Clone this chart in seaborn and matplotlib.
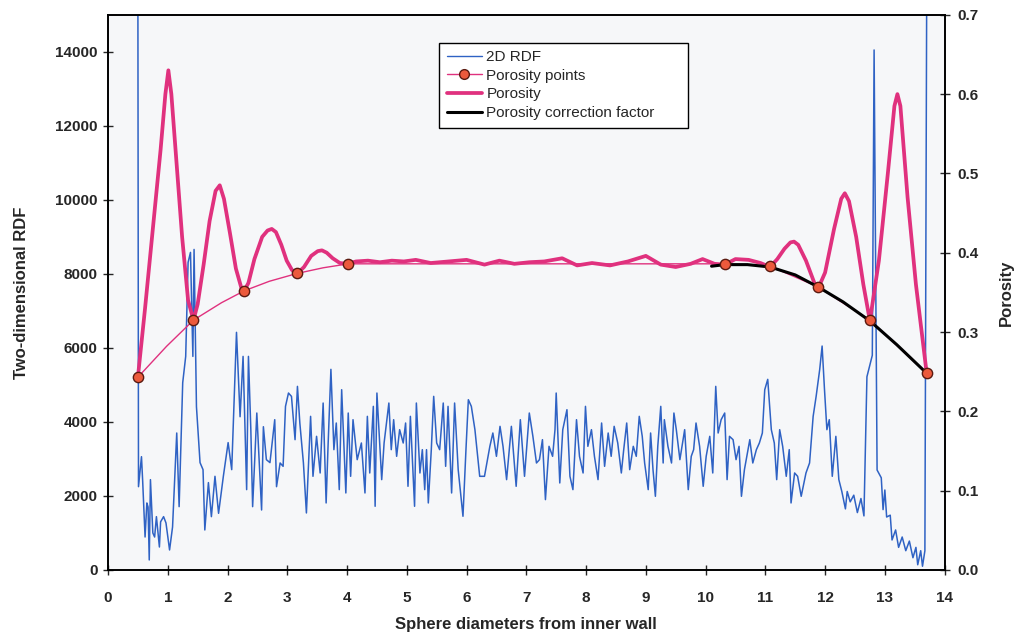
import numpy as np
import pandas as pd
import matplotlib
matplotlib.use("Agg")
import matplotlib.pyplot as plt
import seaborn as sns
from matplotlib.lines import Line2D
from matplotlib.ticker import FormatStrFormatter

# 2D radial distribution function
rdf_x = [0.50, 0.51, 0.56, 0.58, 0.62, 0.65, 0.67, 0.69, 0.71, 0.75,
         0.78, 0.81, 0.86, 0.88, 0.93, 0.97, 1.03, 1.08, 1.15, 1.19,
         1.25, 1.30, 1.34, 1.38, 1.42, 1.44, 1.48, 1.54, 1.59, 1.62,
         1.68, 1.73, 1.79, 1.85, 1.93, 2.01, 2.07, 2.15, 2.21, 2.26,
         2.32, 2.35, 2.39, 2.42, 2.49, 2.57, 2.60, 2.65, 2.71, 2.79,
         2.82, 2.88, 2.93, 2.97, 3.02, 3.07, 3.13, 3.17, 3.21, 3.27,
         3.32, 3.39, 3.43, 3.49, 3.55, 3.60, 3.65, 3.68, 3.73, 3.78,
         3.82, 3.87, 3.91, 3.98, 4.02, 4.06, 4.10, 4.17, 4.24, 4.30,
         4.34, 4.38, 4.44, 4.47, 4.50, 4.58, 4.62, 4.70, 4.74, 4.78,
         4.83, 4.88, 4.94, 4.98, 5.02, 5.06, 5.13, 5.16, 5.22, 5.26,
         5.30, 5.33, 5.36, 5.41, 5.45, 5.50, 5.55, 5.61, 5.65, 5.69,
         5.75, 5.80, 5.86, 5.94, 5.99, 6.03, 6.08, 6.14, 6.22, 6.30,
         6.39, 6.44, 6.50, 6.56, 6.61, 6.67, 6.75, 6.83, 6.90, 6.97,
         7.05, 7.11, 7.17, 7.22, 7.27, 7.32, 7.38, 7.44, 7.48, 7.50,
         7.56, 7.61, 7.68, 7.73, 7.78, 7.84, 7.89, 7.95, 7.99, 8.03,
         8.09, 8.14, 8.20, 8.26, 8.31, 8.37, 8.42, 8.47, 8.53, 8.59,
         8.63, 8.68, 8.73, 8.79, 8.84, 8.89, 8.94, 8.98, 9.04, 9.08,
         9.12, 9.16, 9.20, 9.25, 9.29, 9.31, 9.37, 9.43, 9.47, 9.51,
         9.57, 9.65, 9.71, 9.76, 9.80, 9.84, 9.90, 9.96, 10.01, 10.07,
         10.12, 10.17, 10.21, 10.26, 10.32, 10.36, 10.40, 10.46, 10.51, 10.56,
         10.60, 10.65, 10.74, 10.79, 10.85, 10.90, 10.95, 10.99, 11.04, 11.10,
         11.15, 11.19, 11.24, 11.29, 11.35, 11.40, 11.43, 11.49, 11.54, 11.60,
         11.68, 11.74, 11.80, 11.85, 11.91, 11.95, 11.99, 12.03, 12.07, 12.12,
         12.18, 12.23, 12.28, 12.34, 12.37, 12.42, 12.48, 12.54, 12.60, 12.65,
         12.70, 12.76, 12.79, 12.82, 12.87, 12.94, 12.97, 13.00, 13.03, 13.09,
         13.12, 13.18, 13.23, 13.29, 13.35, 13.41, 13.47, 13.52, 13.55, 13.60,
         13.63, 13.67, 13.70]
rdf_y = [15500, 2250, 3060, 2400, 890, 1810, 1700, 270, 2440, 1000,
         890, 1440, 620, 1300, 1440, 1270, 540, 1160, 3700, 1710,
         5060, 5770, 8310, 8580, 5770, 8660, 4410, 2900, 2710, 1080,
         2360, 1440, 2530, 1530, 2530, 3440, 2710, 6420, 4140, 5770,
         2170, 5770, 3790, 1710, 4240, 1620, 3870, 2980, 2900, 4060,
         2250, 2890, 2800, 4420, 4780, 4690, 3520, 4960, 3970, 2890,
         1540, 4150, 2530, 3610, 2620, 4510, 1810, 3250, 5420, 3250,
         3970, 2170, 4870, 2080, 4240, 2530, 4060, 2980, 3430, 2080,
         4150, 2620, 4420, 1720, 4780, 2440, 3430, 4510, 3250, 4060,
         3070, 3790, 3430, 3970, 2260, 4150, 1720, 4510, 2620, 3250,
         2170, 3250, 1810, 3250, 4690, 3430, 3250, 4510, 2800, 4420,
         2080, 4510, 2710, 1450, 3250, 4600, 4420, 3790, 2530, 2530,
         3340, 3700, 3070, 3880, 3340, 2440, 3880, 2260, 4060, 2530,
         4240, 3610, 2890, 2980, 3520, 1900, 3340, 3070, 3790, 4780,
         2350, 3790, 4330, 2530, 2170, 4060, 3070, 2620, 4420, 3340,
         3790, 3070, 2440, 3970, 2800, 3700, 3070, 3880, 3430, 2620,
         3250, 3970, 2710, 3340, 3070, 4150, 3610, 2890, 2170, 3700,
         2710, 1990, 3340, 4420, 2890, 4060, 3340, 2890, 4240, 3790,
         2980, 3790, 2170, 3070, 3250, 3970, 3340, 2260, 3070, 3610,
         2620, 4960, 3700, 4060, 4240, 2440, 3610, 3520, 2980, 3340,
         1990, 2710, 3520, 2890, 3250, 3430, 3700, 4870, 5150, 3790,
         3430, 2440, 3790, 3340, 2530, 3250, 1810, 2620, 2530, 1990,
         2620, 2890, 4150, 4690, 5420, 6050, 4870, 3790, 4060, 2530,
         3610, 2440, 2120, 1650, 2120, 1840, 2020, 1550, 1930, 1460,
         5220, 5600, 5800, 14050, 2700, 2490, 1630, 2160, 1430, 1480,
         810, 1080, 610, 890, 520, 780, 330, 610, 140, 520,
         100, 520, 15500]

# porosity profile (thick magenta)
por_x = [0.50, 0.62, 0.75, 0.88, 0.96, 1.01, 1.06, 1.14, 1.24, 1.34,
         1.43, 1.50, 1.60, 1.70, 1.80, 1.87, 1.94, 2.04, 2.14, 2.23,
         2.28, 2.35, 2.45, 2.58, 2.67, 2.74, 2.81, 2.90, 2.99, 3.08,
         3.17, 3.28, 3.40, 3.51, 3.58, 3.66, 3.76, 3.88, 4.00, 4.15,
         4.35, 4.55, 4.75, 4.95, 5.15, 5.40, 5.70, 6.00, 6.30, 6.55,
         6.80, 7.05, 7.30, 7.60, 7.85, 8.10, 8.40, 8.70, 9.00, 9.25,
         9.50, 9.75, 9.95, 10.15, 10.32, 10.50, 10.72, 10.92, 11.08, 11.20,
         11.32, 11.42, 11.48, 11.55, 11.68, 11.82, 11.89, 12.00, 12.15, 12.27,
         12.33, 12.40, 12.52, 12.64, 12.75, 12.90, 13.05, 13.16, 13.21, 13.26,
         13.38, 13.52, 13.70]
por_y = [0.243, 0.330, 0.430, 0.530, 0.600, 0.630, 0.600, 0.520, 0.420, 0.340,
         0.315, 0.335, 0.385, 0.440, 0.478, 0.485, 0.468, 0.425, 0.380, 0.356,
         0.352, 0.362, 0.392, 0.420, 0.428, 0.430, 0.426, 0.410, 0.390, 0.378,
         0.374, 0.382, 0.396, 0.402, 0.403, 0.400, 0.393, 0.387, 0.386, 0.389,
         0.390, 0.388, 0.390, 0.389, 0.391, 0.387, 0.389, 0.391, 0.385, 0.390,
         0.386, 0.388, 0.389, 0.393, 0.384, 0.387, 0.384, 0.389, 0.396, 0.385,
         0.382, 0.386, 0.392, 0.386, 0.385, 0.392, 0.391, 0.387, 0.382, 0.392,
         0.405, 0.413, 0.414, 0.410, 0.390, 0.362, 0.356, 0.375, 0.430, 0.468,
         0.475, 0.465, 0.420, 0.360, 0.314, 0.390, 0.500, 0.585, 0.600, 0.585,
         0.470, 0.360, 0.248]

# porosity points (minima) and the thin line through them
pts_x = [0.50, 1.43, 2.28, 3.17, 4.02, 10.32, 11.08, 11.88, 12.75, 13.70]
pts_y = [0.243, 0.315, 0.352, 0.374, 0.386, 0.386, 0.383, 0.357, 0.315, 0.248]
thin_x = [0.50, 0.98, 1.43, 1.90, 2.28, 2.70, 3.17, 3.60, 4.02, 10.32, 11.08, 11.88, 12.75, 13.70]
thin_y = [0.243, 0.282, 0.315, 0.337, 0.352, 0.364, 0.374, 0.381, 0.386, 0.386, 0.383, 0.357, 0.315, 0.248]

# porosity correction factor (black)
corr_x = [10.10, 10.32, 10.70, 11.08, 11.50, 11.88, 12.30, 12.75, 13.20, 13.70]
corr_y = [0.383, 0.385, 0.385, 0.382, 0.372, 0.357, 0.338, 0.314, 0.284, 0.248]

BLUE = "#2f62c4"
MAGENTA = "#e0317e"
MARKER = "#ec5a3c"

sns.set_style("ticks")
plt.rcParams['font.family'] = ['Liberation Sans', 'DejaVu Sans']

fig = plt.figure(figsize=(10.19, 6.44), dpi=100)
ax = fig.add_axes([0.106, 0.115, 0.821, 0.862])
ax.set_facecolor("#f6f7f9")
ax2 = ax.twinx()

rdf = pd.DataFrame({"x": rdf_x, "y": rdf_y})
sns.lineplot(data=rdf, x="x", y="y", ax=ax, color=BLUE, lw=1.1,
             sort=False, estimator=None)

sns.lineplot(x=thin_x, y=thin_y, ax=ax2, color=MAGENTA, lw=1.0,
             sort=False, estimator=None)
sns.lineplot(x=por_x, y=por_y, ax=ax2, color=MAGENTA, lw=2.7,
             sort=False, estimator=None)
sns.lineplot(x=corr_x, y=corr_y, ax=ax2, color="black", lw=2.2,
             sort=False, estimator=None)
sns.scatterplot(x=pts_x, y=pts_y, ax=ax2, color=MARKER, s=55,
                edgecolor="#5a1a10", linewidth=1.0, zorder=5)

ax.set_xlim(0, 14)
ax.set_ylim(0, 15000)
ax2.set_ylim(0, 0.7)
ax.set_xticks(range(0, 15))
ax.set_yticks(range(0, 14001, 2000))
ax2.set_yticks(np.arange(0, 0.71, 0.1))
ax2.yaxis.set_major_formatter(FormatStrFormatter('%.1f'))

ax.tick_params(axis='x', direction='inout', length=7, width=1, labelsize=11, pad=12)
ax.tick_params(axis='y', direction='inout', length=7, width=1, labelsize=11, pad=4)
ax2.tick_params(axis='y', direction='inout', length=7, width=1, labelsize=11, pad=6)
for lbl in ax.get_xticklabels() + ax.get_yticklabels() + ax2.get_yticklabels():
    lbl.set_fontweight('bold')

for a in (ax, ax2):
    for sp in a.spines.values():
        sp.set_color("black")
        sp.set_linewidth(1.2)

ax.set_xlabel("Sphere diameters from inner wall", fontsize=12, fontweight='bold', labelpad=8)
ax.set_ylabel("Two-dimensional RDF", fontsize=12, fontweight='bold', labelpad=19)
ax2.set_ylabel("Porosity", fontsize=12, fontweight='bold', labelpad=14)

handles = [
    Line2D([], [], color=BLUE, lw=1.0),
    Line2D([], [], color=MAGENTA, lw=1.0, marker='o', markersize=7,
           markerfacecolor=MARKER, markeredgecolor="#5a1a10"),
    Line2D([], [], color=MAGENTA, lw=2.7),
    Line2D([], [], color="black", lw=2.2),
]
labels = ["2D RDF", "Porosity points", "Porosity", "Porosity correction factor"]
leg = ax2.legend(handles, labels, loc='upper left',
                 bbox_to_anchor=(0.3955, 0.0, 0.2975, 0.950), mode='expand',
                 fontsize=11, frameon=True, fancybox=False, framealpha=1,
                 edgecolor='black', handlelength=2.3, labelspacing=0.3,
                 borderpad=0.5, handletextpad=0.3, borderaxespad=0)
leg.get_frame().set_linewidth(1.0)

fig.savefig("out.png", dpi=100)
